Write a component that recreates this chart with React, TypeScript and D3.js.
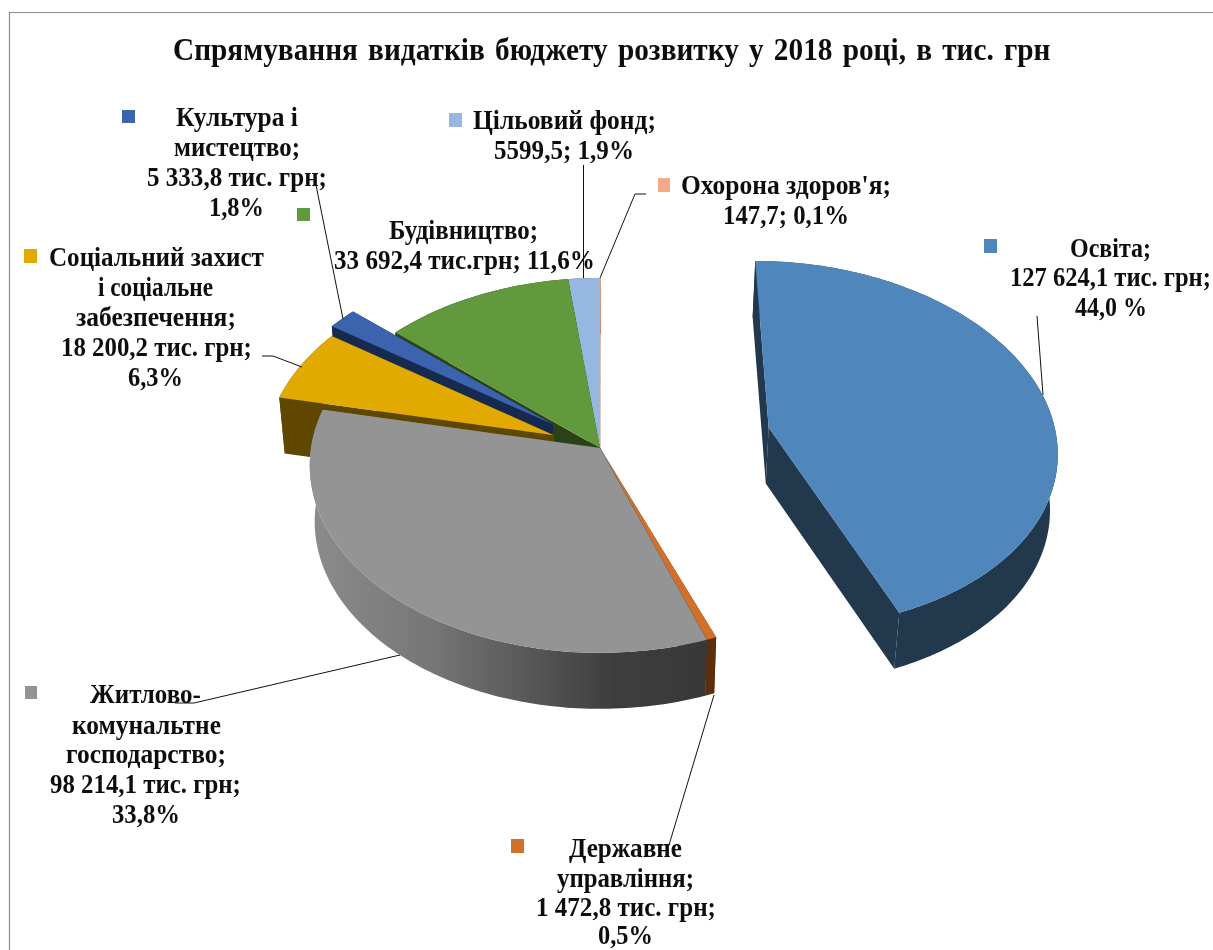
import React from 'react'
import * as d3 from 'd3'

const categories = ['Охорона здоров\'я', 'Освіта', 'Державне управління', 'Житлово-комунальне господарство', 'Соціальний захист', 'Культура і мистецтво', 'Будівництво', 'Цільовий фонд']
const values = [147.7, 127624.1, 1472.8, 98214.1, 18200.2, 5333.8, 33692.4, 5599.5]
const explode = [0, 0.6, 0, 0, 0.175, 0.21, 0, 0]
const topColors = ['#f4a98a', '#4f87bd', '#d2702c', '#949494', '#e2a900', '#3a64ae', '#62993e', '#96b8e0']
const wallColors = ['#6e4a3c', '#20374d', '#5c2d0c', 'url(#grayWall)', '#5f4700', '#172a50', '#2a4219', '#435a78']
// back to front, gray goes after orange so its top hides the orange cut face
const drawOrder = [0, 7, 6, 5, 4, 2, 3, 1]

const title = 'Спрямування видатків бюджету розвитку у 2018 році, в тис. грн'

const labelLines = [
  ['Культура і', 'мистецтво;', '5 333,8 тис. грн;', '1,8%'],
  ['Цільовий фонд;', '5599,5; 1,9%'],
  ['Будівництво;', '33 692,4 тис.грн; 11,6%'],
  ['Соціальний захист', 'і соціальне', 'забезпечення;', '18 200,2 тис. грн;', '6,3%'],
  ['Охорона здоров\'я;', '147,7; 0,1%'],
  ['Освіта;', '127 624,1 тис. грн;', '44,0 %'],
  ['Житлово-', 'комунальтне', 'господарство;', '98 214,1 тис. грн;', '33,8%'],
  ['Державне', 'управління;', '1 472,8 тис. грн;', '0,5%'],
]
// [x0, x1, baseline] per line
const labelBoxes = [
  [[176, 298, 126], [174, 300, 156], [147, 327, 186], [209, 264, 216]],
  [[473, 656, 129], [494, 634, 159]],
  [[389, 538, 239], [334, 595, 269]],
  [[49, 264, 266], [98, 213, 296], [76, 236, 326], [61, 252, 356], [128, 183, 386]],
  [[681, 891, 194], [723, 849, 224]],
  [[1070, 1151, 257], [1010, 1211, 286], [1075, 1147, 316]],
  [[90, 201, 703], [72, 221, 734], [66, 226, 763], [50, 241, 793], [112, 180, 823]],
  [[569, 682, 857], [557, 694, 887], [536, 716, 916], [598, 653, 944]],
]
const legendKeys = [
  { x: 122, y: 110, w: 13, h: 13, color: '#3a64ae' },
  { x: 449, y: 113, w: 13, h: 14, color: '#96b8e0' },
  { x: 297, y: 208, w: 13, h: 13, color: '#62993e' },
  { x: 24, y: 249, w: 13, h: 14, color: '#e2a900' },
  { x: 658, y: 178, w: 12, h: 14, color: '#f4a98a' },
  { x: 984, y: 239, w: 13, h: 14, color: '#4f87bd' },
  { x: 25, y: 686, w: 12, h: 13, color: '#949494' },
  { x: 511, y: 839, w: 13, h: 14, color: '#d2702c' },
]
const leaders = [
  [[316, 185], [343, 319]],
  [[583.5, 165], [583.5, 278]],
  [[646, 194], [635, 194], [600, 278]],
  [[262, 356], [273, 356], [302, 367]],
  [[1037, 316], [1043, 395]],
  [[175, 703], [194, 703], [400, 655]],
  [[650, 845], [669, 845], [714, 695]],
]

const W = 1213
const H = 950
const K = 0.093 // perspective strength
const DEPTH = 56
const SHRINK = 0.983
const FONT = "'Liberation Serif', serif"
const TITLE_WORD_GAP = 3

const xScale = d3.scaleLinear().domain([-1, 1]).range([311, 889])
const yScale = d3.scaleLinear().domain([-1, 1]).range([448 + 185.8, 448 - 185.8])

type P = [number, number]

function project(px: number, pz: number): P {
  const s = 1 / (1 + K * pz)
  return [xScale(px * s), yScale(pz * s)]
}
function lower(p: P): P {
  const x0 = xScale(0)
  return [x0 + (p[0] - x0) * SHRINK, p[1] + DEPTH]
}

const pie = d3.pie<number>().sort(null)
const arcs = pie(values)
const line = d3.line()

function slice3d(i: number) {
  const a = arcs[i]
  const mid = (a.startAngle + a.endAngle) / 2
  const ox = explode[i] * Math.sin(mid)
  const oz = explode[i] * Math.cos(mid)
  const apex = project(ox, oz)
  const steps = Math.max(2, Math.ceil((a.endAngle - a.startAngle) / 0.02))
  const rim = d3.range(steps + 1).map(k => {
    const t = a.startAngle + (a.endAngle - a.startAngle) * k / steps
    return project(ox + Math.sin(t), oz + Math.cos(t))
  })
  const first = rim[0]
  const last = rim[rim.length - 1]
  return {
    top: line([apex, ...rim])! + 'Z',
    wall: line([...rim, ...rim.map(lower).reverse()])! + 'Z',
    faceA: line([apex, first, lower(first), lower(apex)])! + 'Z',
    faceB: line([apex, last, lower(last), lower(apex)])! + 'Z',
  }
}

// the reference text is condensed, so squeeze each line to its width
const measureCtx = document.createElement('canvas').getContext('2d')!
function fitTransform(txt: string, size: number, x0: number, x1: number, y: number, wordGap = 0) {
  measureCtx.font = `bold ${size}px ${FONT}`
  const natural = measureCtx.measureText(txt).width + wordGap * (txt.split(' ').length - 1)
  return `translate(${x0},${y}) scale(${(x1 - x0) / natural},1)`
}

export default function App() {
  return (
    <svg
      width={W}
      height={H}
      viewBox={`0 0 ${W} ${H}`}
      style={{ position: 'absolute', left: 0, top: 0, display: 'block', background: '#fff' }}
      role="img"
      aria-label={title}
    >
      <defs>
        <linearGradient id="grayWall" gradientUnits="userSpaceOnUse" x1="310" x2="716" y1="0" y2="0">
          <stop offset="0" stopColor="#8c8c8c" />
          <stop offset="0.3" stopColor="#767676" />
          <stop offset="0.75" stopColor="#3d3d3d" />
          <stop offset="1" stopColor="#383838" />
        </linearGradient>
        <filter id="soft" x="-5%" y="-5%" width="110%" height="110%">
          <feGaussianBlur stdDeviation="0.45" />
        </filter>
      </defs>

      {/* frame: only top and left edges are in the picture */}
      <path d={`M9.5 ${H}V12.5H${W}`} fill="none" stroke="#8a8a8a" strokeWidth={1.2} />

      <g filter="url(#soft)">
        {drawOrder.map(i => {
          const s = slice3d(i)
          return (
            <g key={categories[i]}>
              <path d={s.faceA} fill={wallColors[i]} />
              <path d={s.faceB} fill={wallColors[i]} />
              <path d={s.wall} fill={wallColors[i]} />
              <path d={s.top} fill={topColors[i]} />
            </g>
          )
        })}
      </g>

      {leaders.map((pts, i) => (
        <path key={i} d={line(pts as P[])!} fill="none" stroke="#111" strokeWidth={1} />
      ))}

      {legendKeys.map((k, i) => (
        <rect key={i} x={k.x} y={k.y} width={k.w} height={k.h} fill={k.color} />
      ))}

      <g filter="url(#soft)" fontFamily={FONT} fontWeight="bold" fill="#111">
        <text
          transform={fitTransform(title, 31, 173, 1051, 60, TITLE_WORD_GAP)}
          fontSize={31}
          wordSpacing={TITLE_WORD_GAP}
        >
          {title}
        </text>
        {labelLines.map((lines, i) =>
          lines.map((txt, j) => {
            const [x0, x1, y] = labelBoxes[i][j]
            return (
              <text key={`${i}-${j}`} transform={fitTransform(txt, 27, x0, x1, y)} fontSize={27}>
                {txt}
              </text>
            )
          })
        )}
      </g>
    </svg>
  )
}
